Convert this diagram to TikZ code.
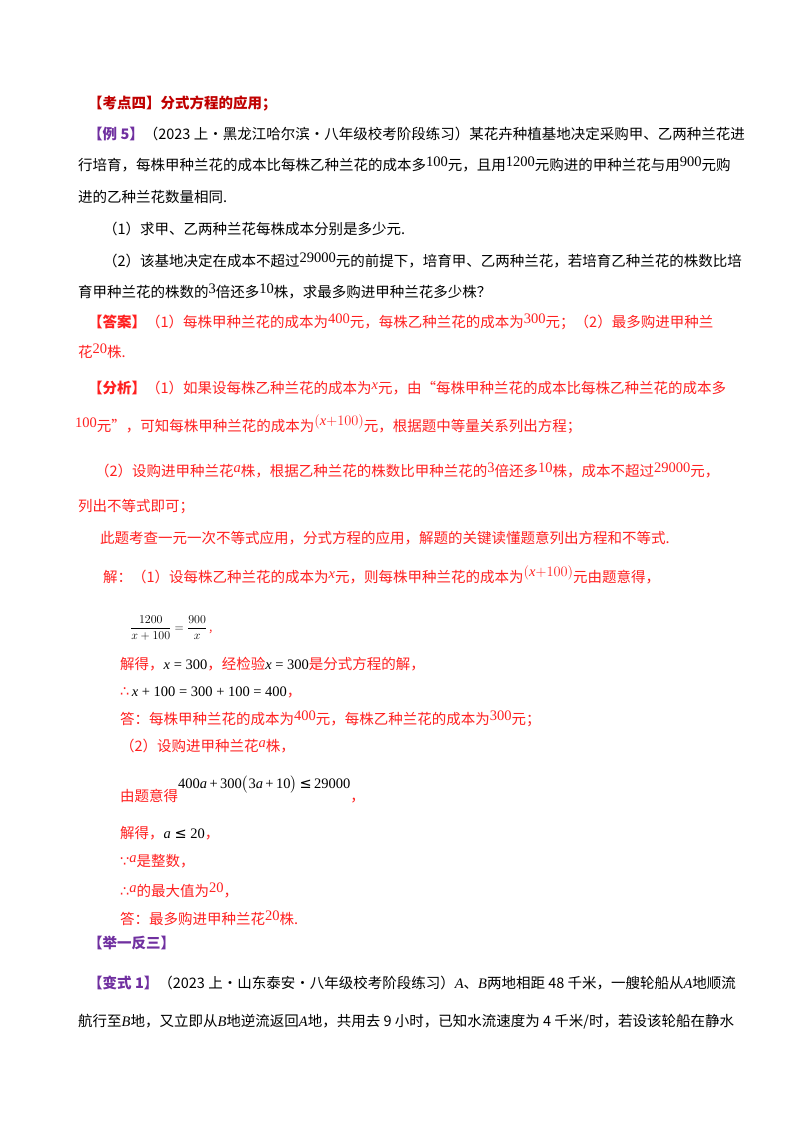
\documentclass[tikz,border=0pt]{standalone}
\usepackage{amsmath}
\usepackage{fontspec}
\setmainfont{Noto Sans CJK SC}
\newfontfamily\tm{Liberation Serif}
\newfontfamily\symf{DejaVu Sans}
\definecolor{hd}{HTML}{C00000}
\definecolor{pu}{HTML}{7030A0}
\definecolor{rd}{HTML}{FF2020}
\newcommand{\up}[1]{\raisebox{4pt}{\tm #1}}
\begin{document}
\begin{tikzpicture}[x=1pt,y=-1pt,
  t/.style={anchor=base west,inner sep=0pt,font=\fontsize{14.5}{16}\selectfont}]
\useasboundingbox (0,0) rectangle (800,1132);
\fill[white] (0,0) rectangle (800,1132);
\node[t,text=hd,font=\fontsize{14.5}{16}\selectfont\bfseries] (h1) at (88,108) {【考点四】分式方程的应用；};
\node[t] (l1) at (88,139) {{\color{pu}\bfseries【例 5】}（2023 上·黑龙江哈尔滨·八年级校考阶段练习）某花卉种植基地决定采购甲、乙两种兰花进};
\node[t] (l2) at (78,170) {行培育，每株甲种兰花的成本比每株乙种兰花的成本多\up{100}元，且用\up{1200}元购进的甲种兰花与用\up{900}元购};
\node[t] (l3) at (78,202) {进的乙种兰花数量相同.};
\node[t] (l4) at (103,234) {（1）求甲、乙两种兰花每株成本分别是多少元.};
\node[t] (l5) at (103,266) {（2）该基地决定在成本不超过\up{29000}元的前提下，培育甲、乙两种兰花，若培育乙种兰花的株数比培};
\node[t] (l6) at (78,297) {育甲种兰花的株数的\up{3}倍还多\up{10}株，求最多购进甲种兰花多少株？};
\begin{scope}[text=rd]
\node[t] (a1) at (88,327) {\bfseries【答案】\mdseries（1）每株甲种兰花的成本为\up{400}元，每株乙种兰花的成本为\up{300}元；（2）最多购进甲种兰};
\node[t] (a2) at (78,357) {花\up{20}株.};
\node[t] (f1) at (88,393) {\bfseries【分析】\mdseries（1）如果设每株乙种兰花的成本为\up{\itshape x}元，由“每株甲种兰花的成本比每株乙种兰花的成本多};
\node[t] (f2) at (75,431) {\up{100}元”，可知每株甲种兰花的成本为\raisebox{6pt}{\tm$(${\itshape x}$+100)$}元，根据题中等量关系列出方程；};
\node[t] (f3) at (95,476) {（2）设购进甲种兰花\up{\itshape a}株，根据乙种兰花的株数比甲种兰花的\up{3}倍还多\up{10}株，成本不超过\up{29000}元，};
\node[t] (f4) at (78,511) {列出不等式即可；};
\node[t] (f5) at (100,543) {此题考查一元一次不等式应用，分式方程的应用，解题的关键读懂题意列出方程和不等式.};
\node[t] (s1) at (103,582) {解：（1）设每株乙种兰花的成本为\up{\itshape x}元，则每株甲种兰花的成本为\raisebox{6pt}{\tm$(${\itshape x}$+100)$}元由题意得，};
\node[anchor=west,inner sep=0pt,text=black] (s2) at (130,628) {\fontsize{12}{14}\selectfont$\dfrac{1200}{x+100}=\dfrac{900}{x}$\,\color{rd},};
\node[t] (s3) at (120,669) {解得，{\color{black}\tm\itshape x\upshape\ = 300}，经检验{\color{black}\tm\itshape x\upshape\ = 300}是分式方程的解，};
\node[t] (s4) at (120,696) {{\symf ∴}\,{\color{black}\tm\itshape x\upshape\ + 100 = 300 + 100 = 400}，};
\node[t] (s5) at (120,724) {答：每株甲种兰花的成本为\up{400}元，每株乙种兰花的成本为\up{300}元；};
\node[t] (s6) at (120,751) {（2）设购进甲种兰花\up{\itshape a}株，};
\node[t] (s7) at (120,801) {由题意得\raisebox{13pt}{\color{black}\tm 400{\itshape a}\,+\,300$\bigl($3{\itshape a}\,+\,10$\bigr)$\,{\symf ≤}\,29000}，};
\node[t] (s8) at (120,838) {解得，{\color{black}\tm\itshape a\upshape\ {\symf ≤} 20}，};
\node[t] (s9) at (120,866) {{\symf ∵}\up{\itshape a}是整数，};
\node[t] (s10) at (120,896) {{\symf ∴}\up{\itshape a}的最大值为\up{20}，};
\node[t] (s11) at (120,924) {答：最多购进甲种兰花\up{20}株.};
\end{scope}
\node[t,text=pu,font=\fontsize{14.5}{16}\selectfont\bfseries] (j1) at (88,948) {【举一反三】};
\node[t] (v1) at (88,988) {{\color{pu}\bfseries【变式 1】}（2023 上·山东泰安·八年级校考阶段练习）{\tm\itshape A}、{\tm\itshape B}两地相距 48 千米，一艘轮船从{\tm\itshape A}地顺流};
\node[t] (v2) at (78,1026) {航行至{\tm\itshape B}地，又立即从{\tm\itshape B}地逆流返回{\tm\itshape A}地，共用去 9 小时，已知水流速度为 4 千米/时，若设该轮船在静水};
\end{tikzpicture}
\end{document}
